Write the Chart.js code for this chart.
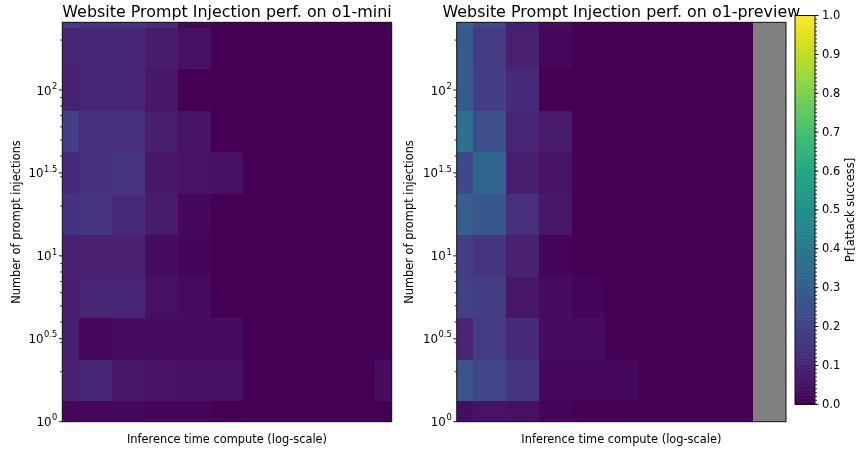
<!DOCTYPE html>
<html>
<head>
<meta charset="utf-8">
<script src="https://cdn.jsdelivr.net/npm/chart.js@4.4.1/dist/chart.umd.min.js"></script>
<style>
  html, body { margin: 0; padding: 0; background: #ffffff; }
  #wrap { position: relative; width: 857px; height: 450px; }
  #wrap canvas { position: absolute; left: 0; top: 0; }
</style>
</head>
<body>
<div id="wrap">
  <canvas id="mini" width="857" height="450"></canvas>
  <canvas id="preview" width="857" height="450"></canvas>
  <canvas id="cbar" width="857" height="450"></canvas>
</div>
<script>
// ---- data -------------------------------------------------------------
// Inference-compute steps along x (log-spaced budget, shown unlabeled)
const computeSteps = [0, 1, 2, 3, 4, 5, 6, 7, 8, 9, 10];
const previewComputeSteps = [0, 1, 2, 3, 4, 5, 6, 7, 8, 9];

// Number of prompt injections per row, quarter-decade steps
const injectionCounts = [1, 1.778, 3.162, 5.623, 10, 17.78, 31.62, 56.23, 100, 177.8, 316.2];

// Pr[attack success], one row per injection count (bottom row first)
const miniRates = [
  [0.02, 0.02, 0.02, 0.01, 0.01, 0.00, 0.00, 0.00, 0.00, 0.00, 0.00],
  [0.09, 0.11, 0.06, 0.05, 0.04, 0.04, 0.00, 0.00, 0.00, 0.00, 0.03],
  [0.08, 0.02, 0.03, 0.03, 0.03, 0.03, 0.00, 0.00, 0.00, 0.00, 0.00],
  [0.08, 0.10, 0.10, 0.04, 0.03, 0.00, 0.00, 0.00, 0.00, 0.00, 0.00],
  [0.09, 0.09, 0.09, 0.03, 0.01, 0.00, 0.00, 0.00, 0.00, 0.00, 0.00],
  [0.14, 0.15, 0.12, 0.07, 0.02, 0.00, 0.00, 0.00, 0.00, 0.00, 0.00],
  [0.12, 0.14, 0.15, 0.06, 0.05, 0.04, 0.00, 0.00, 0.00, 0.00, 0.00],
  [0.18, 0.13, 0.13, 0.08, 0.05, 0.00, 0.00, 0.00, 0.00, 0.00, 0.00],
  [0.09, 0.10, 0.10, 0.06, 0.00, 0.00, 0.00, 0.00, 0.00, 0.00, 0.00],
  [0.10, 0.11, 0.11, 0.07, 0.04, 0.00, 0.00, 0.00, 0.00, 0.00, 0.00],
  [0.17, 0.14, 0.14, 0.12, 0.02, 0.00, 0.00, 0.00, 0.00, 0.00, 0.00]
];
const previewRates = [
  [0.03, 0.05, 0.04, 0.01, 0.00, 0.00, 0.00, 0.00, 0.00, 0.00],
  [0.25, 0.20, 0.15, 0.02, 0.02, 0.02, 0.00, 0.00, 0.00, 0.00],
  [0.10, 0.17, 0.12, 0.03, 0.03, 0.00, 0.00, 0.00, 0.00, 0.00],
  [0.19, 0.18, 0.06, 0.03, 0.01, 0.00, 0.00, 0.00, 0.00, 0.00],
  [0.18, 0.15, 0.09, 0.01, 0.00, 0.00, 0.00, 0.00, 0.00, 0.00],
  [0.30, 0.27, 0.13, 0.06, 0.00, 0.00, 0.00, 0.00, 0.00, 0.00],
  [0.22, 0.32, 0.08, 0.05, 0.00, 0.00, 0.00, 0.00, 0.00, 0.00],
  [0.37, 0.24, 0.10, 0.07, 0.00, 0.00, 0.00, 0.00, 0.00, 0.00],
  [0.28, 0.18, 0.12, 0.00, 0.00, 0.00, 0.00, 0.00, 0.00, 0.00],
  [0.28, 0.17, 0.09, 0.02, 0.00, 0.00, 0.00, 0.00, 0.00, 0.00],
  [0.30, 0.22, 0.08, 0.03, 0.00, 0.00, 0.00, 0.00, 0.00, 0.00]
];

// Axis ticks
const yMajorTicks = [1, 3.1623, 10, 31.623, 100];
const yTickExponents = ['0', '0.5', '1', '1.5', '2'];
const yMinorTicks = [2, 3, 4, 5, 6, 7, 8, 9, 20, 30, 40, 50, 60, 70, 80, 90, 200];
const cbarTicks = [0.0, 0.1, 0.2, 0.3, 0.4, 0.5, 0.6, 0.7, 0.8, 0.9, 1.0];
const cbarTickLabels = ['0.0', '0.1', '0.2', '0.3', '0.4', '0.5', '0.6', '0.7', '0.8', '0.9', '1.0'];

// Text
const titleMini = 'Website Prompt Injection perf. on o1-mini';
const titlePreview = 'Website Prompt Injection perf. on o1-preview';
const xAxisLabel = 'Inference time compute (log-scale)';
const yAxisLabel = 'Number of prompt injections';
const cbarLabel = 'Pr[attack success]';

// ---- styling ----------------------------------------------------------
const FONT = '"DejaVu Sans", "Liberation Sans", sans-serif';
const Y_MAX = 256;
const VIRIDIS = [
  '#440154', '#48186a', '#472d7b', '#424086', '#3b528b', '#33638d',
  '#2c728e', '#26828e', '#21918c', '#1fa088', '#28ae80', '#3fbc73',
  '#5ec962', '#84d44b', '#addc30', '#d8e219', '#fde725'
];

function hexRgb(h) {
  return [parseInt(h.slice(1, 3), 16), parseInt(h.slice(3, 5), 16), parseInt(h.slice(5, 7), 16)];
}
const VIRIDIS_RGB = VIRIDIS.map(hexRgb);
function viridis(t) {
  t = Math.max(0, Math.min(1, t));
  const f = t * (VIRIDIS_RGB.length - 1);
  const i = Math.min(Math.floor(f), VIRIDIS_RGB.length - 2);
  const u = f - i;
  const a = VIRIDIS_RGB[i], b = VIRIDIS_RGB[i + 1];
  const c = a.map((v, k) => Math.round(v + (b[k] - v) * u));
  return `rgb(${c[0]},${c[1]},${c[2]})`;
}

// Cell edges for a mesh of centers, clipped to the extent of the centers
function cellEdges(vals, log) {
  const e = [vals[0]];
  for (let i = 0; i < vals.length - 1; i++) {
    e.push(log ? Math.sqrt(vals[i] * vals[i + 1]) : (vals[i] + vals[i + 1]) / 2);
  }
  e.push(vals[vals.length - 1]);
  return e;
}

function toPoints(xVals, yVals, grid) {
  const pts = [];
  yVals.forEach((yv, r) => xVals.forEach((xv, c) => pts.push({ x: xv, y: yv, v: grid[r][c] })));
  return pts;
}

// ---- plugins ----------------------------------------------------------
const heatmapPlugin = {
  id: 'heatmap',
  beforeDatasetsDraw(chart, args, opts) {
    const { ctx, chartArea: a, scales: { x, y } } = chart;
    ctx.save();
    ctx.fillStyle = opts.background || '#808080';
    ctx.fillRect(a.left, a.top, a.width, a.height);
    ctx.beginPath();
    ctx.rect(a.left, a.top, a.width, a.height);
    ctx.clip();
    const pts = chart.data.datasets[0].data;
    const xs = [...new Set(pts.map(p => p.x))].sort((p, q) => p - q);
    const ys = [...new Set(pts.map(p => p.y))].sort((p, q) => p - q);
    const xe = cellEdges(xs, false), ye = cellEdges(ys, true);
    pts.forEach(p => {
      const i = xs.indexOf(p.x), j = ys.indexOf(p.y);
      const x0 = Math.round(x.getPixelForValue(xe[i]));
      const x1 = Math.round(x.getPixelForValue(xe[i + 1]));
      const yb = Math.round(y.getPixelForValue(ye[j]));
      const yt = Math.round(y.getPixelForValue(ye[j + 1]));
      ctx.fillStyle = viridis(p.v);
      ctx.fillRect(x0, yt, x1 - x0, yb - yt);
    });
    ctx.restore();
  }
};

function drawPow(ctx, exp, xRight, yc) {
  const base = '11.8px ' + FONT, sup = '8.3px ' + FONT;
  ctx.font = sup; const we = ctx.measureText(exp).width;
  ctx.font = base; const wb = ctx.measureText('10').width;
  const x0 = xRight - we - wb - 0.6;
  ctx.textAlign = 'left';
  ctx.textBaseline = 'alphabetic';
  ctx.fillText('10', x0, yc + 4.5);
  ctx.font = sup;
  ctx.fillText(exp, x0 + wb + 0.6, yc - 1.3);
}

const axesDecorPlugin = {
  id: 'axesDecor',
  afterDraw(chart, args, opts) {
    const { ctx, chartArea: a, scales: { y } } = chart;
    ctx.save();
    ctx.strokeStyle = '#000';
    ctx.fillStyle = '#000';
    ctx.lineWidth = 0.9;
    // ticks on the left spine
    yMajorTicks.forEach((v, k) => {
      const py = y.getPixelForValue(v);
      ctx.beginPath(); ctx.moveTo(a.left, py); ctx.lineTo(a.left - 3.5, py); ctx.stroke();
      drawPow(ctx, yTickExponents[k], a.left - 5, py);
    });
    yMinorTicks.forEach(v => {
      if (v > y.max) return;
      const py = y.getPixelForValue(v);
      ctx.beginPath(); ctx.moveTo(a.left, py); ctx.lineTo(a.left - 2, py); ctx.stroke();
    });
    // spines
    ctx.strokeStyle = '#111';
    ctx.lineWidth = 1;
    ctx.strokeRect(a.left, a.top, a.width, a.height);
    // title
    const cx = (a.left + a.right) / 2;
    ctx.font = '15.9px ' + FONT;
    ctx.textAlign = 'center';
    ctx.textBaseline = 'alphabetic';
    ctx.fillText(opts.title, cx, 17);
    // axis labels
    ctx.font = '11.4px ' + FONT;
    ctx.textBaseline = 'middle';
    ctx.fillText(xAxisLabel, cx, a.bottom + 18.8);
    ctx.save();
    ctx.translate(opts.yLabelX, (a.top + a.bottom) / 2);
    ctx.rotate(-Math.PI / 2);
    ctx.fillText(yAxisLabel, 0, 0);
    ctx.restore();
    ctx.restore();
  }
};

const colorbarPlugin = {
  id: 'colorbar',
  beforeDatasetsDraw(chart) {
    const { ctx, chartArea: a, scales: { y } } = chart;
    const steps = 256;
    ctx.save();
    for (let i = 0; i < steps; i++) {
      const y0 = y.getPixelForValue(i / steps), y1 = y.getPixelForValue((i + 1) / steps);
      ctx.fillStyle = viridis((i + 0.5) / steps);
      ctx.fillRect(a.left, y1, a.width, y0 - y1 + 0.6);
    }
    ctx.restore();
  },
  afterDraw(chart) {
    const { ctx, chartArea: a, scales: { y } } = chart;
    ctx.save();
    ctx.strokeStyle = '#000';
    ctx.fillStyle = '#000';
    ctx.lineWidth = 0.8;
    for (let k = 0; k <= 100; k++) {
      const py = y.getPixelForValue(k / 100);
      ctx.beginPath(); ctx.moveTo(a.right, py); ctx.lineTo(a.right + 2, py); ctx.stroke();
    }
    ctx.lineWidth = 0.9;
    ctx.font = '11.5px ' + FONT;
    ctx.textAlign = 'left';
    ctx.textBaseline = 'middle';
    cbarTicks.forEach((v, k) => {
      const py = y.getPixelForValue(v);
      ctx.beginPath(); ctx.moveTo(a.right, py); ctx.lineTo(a.right + 3.5, py); ctx.stroke();
      ctx.fillText(cbarTickLabels[k], a.right + 7, py + 0.5);
    });
    ctx.strokeStyle = '#111';
    ctx.lineWidth = 1;
    ctx.strokeRect(a.left, a.top, a.width, a.height);
    ctx.font = '11.4px ' + FONT;
    ctx.textAlign = 'center';
    ctx.translate(851, (a.top + a.bottom) / 2);
    ctx.rotate(-Math.PI / 2);
    ctx.fillText(cbarLabel, 0, 0);
    ctx.restore();
  }
};

// ---- charts -----------------------------------------------------------
function heatmapConfig(xVals, grid, title, padding, yLabelX) {
  return {
    type: 'scatter',
    data: { datasets: [{ data: toPoints(xVals, injectionCounts, grid), pointRadius: 0 }] },
    options: {
      responsive: false,
      animation: false,
      devicePixelRatio: 1,
      layout: { padding },
      events: [],
      plugins: {
        legend: { display: false },
        tooltip: { enabled: false },
        heatmap: { background: '#808080' },
        axesDecor: { title, yLabelX }
      },
      scales: {
        x: { type: 'linear', min: computeSteps[0], max: computeSteps[computeSteps.length - 1], display: false },
        y: { type: 'logarithmic', min: injectionCounts[0], max: Y_MAX, display: false }
      }
    },
    plugins: [heatmapPlugin, axesDecorPlugin]
  };
}

new Chart(document.getElementById('mini'),
  heatmapConfig(computeSteps, miniRates, titleMini,
    { left: 62.3, top: 22.3, right: 857 - 391.7, bottom: 28.3 }, 17));

new Chart(document.getElementById('preview'),
  heatmapConfig(previewComputeSteps, previewRates, titlePreview,
    { left: 456.7, top: 22.3, right: 857 - 786, bottom: 28.3 }, 410.5));

new Chart(document.getElementById('cbar'), {
  type: 'scatter',
  data: { datasets: [{ data: [], pointRadius: 0 }] },
  options: {
    responsive: false,
    animation: false,
    devicePixelRatio: 1,
    events: [],
    layout: { padding: { left: 795, right: 857 - 815, top: 15.5, bottom: 450 - 404.3 } },
    plugins: { legend: { display: false }, tooltip: { enabled: false } },
    scales: {
      x: { type: 'linear', min: 0, max: 1, display: false },
      y: { type: 'linear', min: cbarTicks[0], max: cbarTicks[cbarTicks.length - 1], display: false }
    }
  },
  plugins: [colorbarPlugin]
});
</script>
</body>
</html>
